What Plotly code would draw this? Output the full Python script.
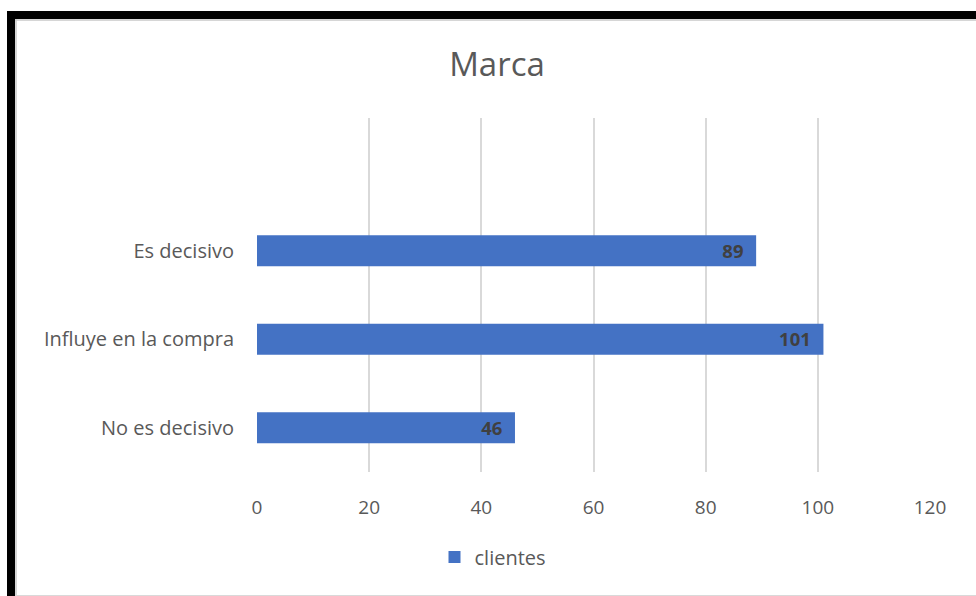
import plotly.graph_objects as go

categories = ["No es decisivo", "Influye en la compra", "Es decisivo"]
clientes = [46, 101, 89]
x_ticks = [0, 20, 40, 60, 80, 100, 120]

W, H = 976, 596
L, R, T, B = 257, 930, 118, 472

def px(x):
    return (x - L) / (R - L)

def py(y):
    return (B - y) / (B - T)

FONT = "Open Sans, Liberation Sans, sans-serif"

fig = go.Figure()
fig.add_trace(go.Bar(
    y=categories, x=clientes, orientation="h", name="clientes",
    marker=dict(color="#4472C4", line=dict(width=0)),
    width=0.35,
    text=[str(v) + "\u00a0\u00a0" for v in clientes], textposition="inside", insidetextanchor="end",
    textangle=0,
    textfont=dict(family=FONT, size=20, color="#404040", weight="bold"),
    cliponaxis=False,
))

shapes = [
    dict(type="rect", xref="paper", yref="paper", x0=px(7), x1=px(W + 5), y0=py(19), y1=py(11),
         fillcolor="black", line=dict(width=0), layer="above"),
    dict(type="rect", xref="paper", yref="paper", x0=px(7), x1=px(15), y0=py(H + 5), y1=py(11),
         fillcolor="black", line=dict(width=0), layer="above"),
    dict(type="line", xref="paper", yref="paper", x0=px(15), x1=px(W + 5), y0=py(20), y1=py(20),
         line=dict(color="#C8C8C8", width=1.5)),
    dict(type="line", xref="paper", yref="paper", x0=px(16), x1=px(16), y0=py(H + 5), y1=py(19),
         line=dict(color="#C8C8C8", width=1.5)),
    dict(type="line", xref="paper", yref="paper", x0=px(15), x1=px(W + 5), y0=py(595.5), y1=py(595.5),
         line=dict(color="#D9D9D9", width=1)),
]

fig.update_layout(
    width=W, height=H, autosize=False,
    margin=dict(l=L, r=W - R, t=T, b=H - B, pad=0, autoexpand=False),
    paper_bgcolor="white", plot_bgcolor="white",
    font=dict(family=FONT, color="#595959"),
    title=dict(text="Marca", x=497 / W, xanchor="center", xref="container", y=1 - 64 / H, yanchor="middle",
               yref="container", font=dict(size=33, color="#595959")),
    xaxis=dict(range=[0, 120], tickvals=x_ticks, showgrid=True, gridcolor="#D9D9D9", gridwidth=1.5,
               zeroline=False, showline=False, ticks="", tickfont=dict(size=19, color="#595959"),
               ticklabelstandoff=22, tickangle=0, automargin=False),
    yaxis=dict(type="category", categoryorder="array", categoryarray=categories,
               range=[-0.5, 3.5], showgrid=False, zeroline=False, showline=False, ticks="",
               tickfont=dict(size=20, color="#595959"), ticklabelstandoff=22, automargin=False),
    showlegend=True,
    legend=dict(orientation="h", x=px(493), xanchor="center", xref="paper", y=py(557), yanchor="middle",
                font=dict(size=20, color="#595959")),
    shapes=shapes,
)

fig.write_html("out.html", config={"displayModeBar": False},
               post_script="document.body.style.margin='0';")
